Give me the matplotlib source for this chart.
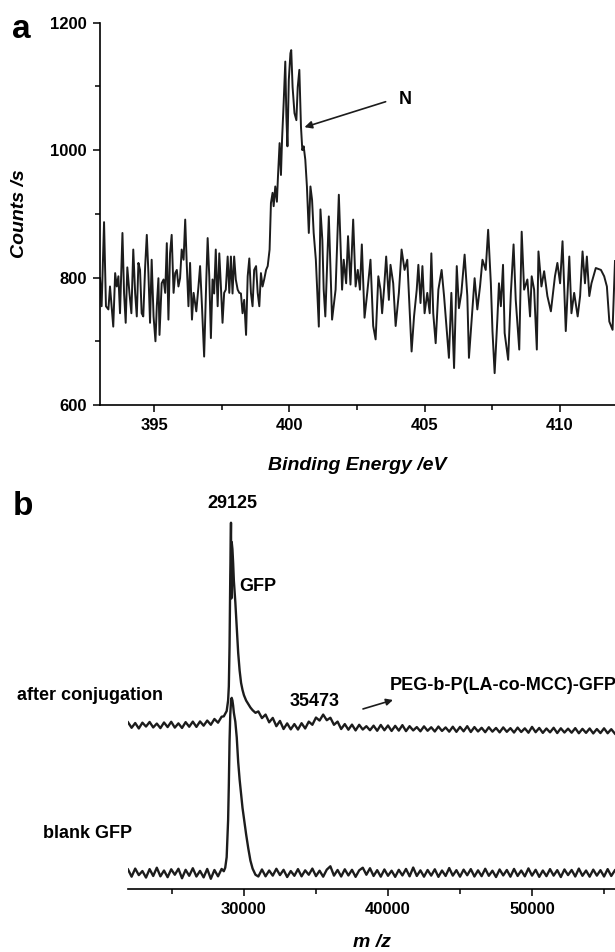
import matplotlib
matplotlib.use("Agg")
import matplotlib.pyplot as plt
from matplotlib.ticker import MultipleLocator

plt.rcParams['font.family'] = ['Liberation Sans', 'DejaVu Sans']
plt.rcParams['font.weight'] = 'bold'
plt.rcParams['axes.labelweight'] = 'bold'

# ---- panel a : XPS N1s scan ----
energy = [
    393.00, 393.06, 393.15, 393.22, 393.31, 393.37, 393.43, 393.49, 393.56, 393.62,
    393.68, 393.74, 393.83, 393.89, 393.95, 394.01, 394.09, 394.16, 394.23, 394.30,
    394.36, 394.42, 394.48, 394.54, 394.60, 394.67, 394.73, 394.79, 394.85, 394.91,
    394.98, 395.05, 395.10, 395.16, 395.20, 395.28, 395.35, 395.41, 395.47, 395.53,
    395.59, 395.65, 395.72, 395.78, 395.84, 395.90, 395.96, 396.02, 396.09, 396.15,
    396.21, 396.27, 396.33, 396.40, 396.46, 396.56, 396.64, 396.70, 396.77, 396.85,
    396.93, 396.98, 397.04, 397.10, 397.16, 397.22, 397.28, 397.35, 397.41, 397.47,
    397.53, 397.59, 397.65, 397.72, 397.78, 397.84, 397.90, 397.96, 398.02, 398.09,
    398.15, 398.21, 398.27, 398.33, 398.40, 398.46, 398.52, 398.58, 398.64, 398.70,
    398.77, 398.83, 398.89, 398.95, 399.01, 399.07, 399.14, 399.20, 399.27, 399.32,
    399.38, 399.42, 399.48, 399.54, 399.58, 399.64, 399.69, 399.73, 399.79, 399.85,
    399.89, 399.93, 399.98, 400.04, 400.07, 400.12, 400.19, 400.26, 400.31, 400.37,
    400.43, 400.48, 400.53, 400.59, 400.65, 400.72, 400.78, 400.84, 400.90, 400.98,
    401.09, 401.15, 401.22, 401.27, 401.33, 401.46, 401.58, 401.71, 401.83, 401.95,
    402.01, 402.10, 402.17, 402.26, 402.36, 402.45, 402.53, 402.61, 402.68, 402.78,
    402.88, 403.00, 403.10, 403.19, 403.29, 403.37, 403.43, 403.50, 403.58, 403.68,
    403.74, 403.84, 403.93, 404.05, 404.15, 404.26, 404.36, 404.43, 404.52, 404.61,
    404.71, 404.77, 404.85, 404.92, 405.00, 405.10, 405.19, 405.25, 405.32, 405.41,
    405.51, 405.63, 405.72, 405.78, 405.90, 405.99, 406.09, 406.19, 406.27, 406.36,
    406.48, 406.58, 406.64, 406.77, 406.85, 406.95, 407.05, 407.14, 407.26, 407.35,
    407.45, 407.51, 407.59, 407.69, 407.75, 407.82, 407.90, 407.96, 408.09, 408.19,
    408.29, 408.37, 408.50, 408.59, 408.68, 408.80, 408.90, 408.96, 409.05, 409.15,
    409.21, 409.32, 409.42, 409.54, 409.67, 409.82, 409.91, 410.01, 410.10, 410.22,
    410.35, 410.43, 410.53, 410.66, 410.75, 410.84, 410.93, 411.00, 411.09, 411.17,
    411.33, 411.52, 411.64, 411.74, 411.83, 411.95, 412.04,
]
counts = [
    799, 755, 887, 755, 750, 786, 755, 723, 807, 786,
    802, 744, 870, 775, 729, 816, 775, 744, 844, 775,
    739, 823, 812, 744, 739, 818, 867, 807, 729, 828,
    739, 700, 755, 799, 710, 791, 797, 776, 854, 734,
    838, 867, 776, 807, 812, 786, 799, 844, 828, 891,
    818, 755, 823, 734, 776, 747, 786, 818, 755, 676,
    797, 862, 802, 705, 797, 775, 844, 755, 838, 786,
    729, 776, 781, 833, 776, 833, 775, 833, 797, 781,
    776, 775, 744, 765, 710, 802, 830, 776, 755, 812,
    818, 776, 755, 807, 786, 797, 812, 818, 844, 917,
    933, 912, 943, 919, 959, 1011, 961, 1016, 1074, 1139,
    1053, 1006, 1110, 1152, 1157, 1099, 1058, 1047, 1099, 1126,
    1037, 1000, 1006, 985, 943, 870, 943, 922, 870, 828,
    723, 907, 859, 781, 739, 896, 734, 781, 930, 781,
    828, 791, 865, 789, 891, 786, 812, 781, 852, 737,
    776, 828, 724, 703, 802, 781, 744, 781, 833, 765,
    820, 791, 724, 776, 844, 812, 828, 765, 684, 739,
    781, 820, 760, 818, 744, 776, 744, 838, 744, 697,
    781, 812, 771, 739, 674, 776, 658, 818, 752, 776,
    836, 771, 674, 750, 799, 750, 786, 828, 812, 875,
    791, 716, 650, 734, 791, 755, 820, 713, 671, 776,
    852, 765, 687, 872, 781, 797, 739, 802, 781, 687,
    841, 786, 810, 771, 747, 802, 823, 791, 857, 716,
    833, 744, 776, 739, 771, 841, 791, 833, 771, 791,
    815, 812, 802, 786, 731, 718, 826,
]

# ---- panel b : MALDI-TOF spectra ----
mz_left = [21950, 22200, 22450, 22700, 22950, 23200, 23450, 23700, 23950, 24200,
           24450, 24700, 24950, 25200, 25450, 25700, 25950, 26200, 26450, 26700,
           26950, 27200, 27450, 27700, 27950, 28200, 28450]
mz_peak = [28600, 28700, 28800, 28900, 28950, 29000, 29050, 29100, 29125, 29150,
           29200, 29250, 29300, 29400, 29500, 29600, 29700, 29800, 29900, 30000,
           30150, 30300, 30450, 30600, 30800]
mz_right = [31000, 31250, 31500, 31750, 32000, 32250, 32500, 32750, 33000, 33250,
            33500, 33750, 34000, 34250, 34500, 34750, 35000, 35250, 35500, 35750,
            36000, 36250, 36500, 36750, 37000, 37250, 37500, 37750, 38000, 38250,
            38500, 38750, 39000, 39250, 39500, 39750, 40000, 40250, 40500, 40750,
            41000, 41250, 41500, 41750, 42000, 42250, 42500, 42750, 43000, 43250,
            43500, 43750, 44000, 44250, 44500, 44750, 45000, 45250, 45500, 45750,
            46000, 46250, 46500, 46750, 47000, 47250, 47500, 47750, 48000, 48250,
            48500, 48750, 49000, 49250, 49500, 49750, 50000, 50250, 50500, 50750,
            51000, 51250, 51500, 51750, 52000, 52250, 52500, 52750, 53000, 53250,
            53500, 53750, 54000, 54250, 54500, 54750, 55000, 55250, 55500, 55750]

conj_left = [1.6, -1.5, 1.2, -1.9, 1.4, -0.8, 1.8, -1.3, 0.9, -1.7,
             1.5, -1.1, 1.9, -1.4, 1.0, -1.6, 1.7, -0.9, 2.0, -1.0,
             2.1, -0.3, 2.6, 0.2, 3.5, 1.4, 4.8]
conj_peak = [5.0, 6.5, 8.0, 14.0, 22.0, 45.0, 85.0, 115.0, 72.0, 104.0,
             100.0, 92.0, 82.0, 70.0, 56.0, 41.0, 31.0, 24.0, 20.0, 17.0,
             14.0, 12.0, 10.0, 8.5, 7.0]
conj_right = [7.8, 4.0, 6.0, 1.6, 4.1, -0.6, 2.4, -2.2, 1.0, -2.4,
              0.6, -2.5, 1.1, -1.9, 2.0, 0.2, 4.3, 2.6, 6.0, 2.8,
              4.2, 0.2, 2.0, -2.2, 0.6, -2.6, 0.3, -3.0, 0.2, -2.5,
              -0.6, -2.9, -0.3, -3.2, 0.1, -2.9, -0.2, -3.3, -0.4, -3.1,
              0.0, -3.4, -0.6, -3.0, -1.1, -3.5, -0.7, -3.2, -1.2, -3.6,
              -0.8, -3.3, -1.3, -3.7, -0.9, -3.8, -1.0, -3.5, -0.6, -3.9,
              -1.1, -3.6, -1.5, -4.0, -1.2, -3.7, -1.6, -4.1, -1.3, -3.8,
              -1.7, -4.2, -1.4, -3.9, -1.8, -4.3, -1.0, -4.0, -1.6, -4.4,
              -1.9, -4.1, -1.5, -4.5, -1.8, -4.2, -2.0, -4.3, -1.7, -4.6,
              -2.1, -4.4, -1.9, -4.7, -2.2, -4.5, -1.8, -4.6, -2.3, -4.8]

blank_left = [2.0, -2.1, 2.5, -1.2, 1.1, -2.6, 2.2, -1.7, 3.0, -1.9,
              1.4, -2.4, 2.1, -1.0, 2.4, -3.0, 1.8, -1.6, 2.7, -2.0,
              1.2, -2.5, 2.3, -3.3, 1.7, -1.9, 2.3]
blank_peak = [1.0, 3.0, 9.0, 30.0, 50.0, 75.0, 90.0, 97.0, 99.0, 99.5,
              98.0, 95.0, 91.0, 86.0, 77.0, 63.0, 53.0, 45.0, 37.0, 31.0,
              22.0, 14.0, 7.0, 2.5, -1.0]
blank_right = [-2.0, 2.0, -1.9, 1.4, -1.5, 2.4, -1.2, 1.8, -2.3, 1.1,
               -1.6, 2.2, -1.9, 1.5, -1.0, 2.5, -1.8, 1.3, -2.1, 1.9,
               3.8, -1.5, 1.7, -2.0, 2.1, -1.4, 1.8, -2.2, 1.5, 3.0,
               -1.0, 2.7, -1.7, 1.6, -2.1, 2.0, -1.6, 1.3, -2.2, 1.8,
               -1.4, 2.3, -1.9, 3.1, -1.7, 1.5, -2.1, 1.7, -1.5, 2.1,
               -2.2, 1.4, -1.7, 2.8, -1.5, 1.6, -2.1, 1.9, -1.3, 2.2,
               -2.0, 1.5, -1.8, 2.4, -1.6, 1.3, -2.3, 2.0, -1.4, 1.7,
               -2.1, 2.3, -1.7, 1.4, -1.9, 2.6, -1.5, 1.8, -2.2, 1.4,
               -1.8, 2.2, -1.5, 1.6, -2.3, 2.0, -1.2, 1.7, -2.0, 2.5,
               -1.6, 1.4, -2.1, 1.9, -1.5, 1.6, -2.0, 2.2, -1.7, 1.5]

mz = mz_left + mz_peak + mz_right
conj = conj_left + conj_peak + conj_right
blank = blank_left + blank_peak + blank_right
conj_offset = 84

line_c = '#1c1c1c'
W, H = 615, 952

fig = plt.figure(figsize=(W / 100, H / 100), dpi=100)

# panel a
ax1 = fig.add_axes([100 / W, 1 - 405 / H, 515 / W, (405 - 22.7) / H])
ax1.plot(energy, counts, color=line_c, lw=1.4)
ax1.set_xlim(393, 412.04)
ax1.set_ylim(600, 1200)
ax1.xaxis.set_major_locator(MultipleLocator(5))
ax1.xaxis.set_minor_locator(MultipleLocator(2.5))
ax1.yaxis.set_major_locator(MultipleLocator(200))
ax1.yaxis.set_minor_locator(MultipleLocator(100))
for s in ['top', 'right']:
    ax1.spines[s].set_visible(False)
for s in ['left', 'bottom']:
    ax1.spines[s].set_linewidth(1.2)
ax1.tick_params(which='major', direction='out', length=5, width=1.1,
                labelsize=12, pad=4.5)
ax1.tick_params(which='minor', direction='out', length=3.5, width=1.1)
ax1.set_ylabel('Counts /s', fontsize=14, fontstyle='italic', labelpad=16)
ax1.set_xlabel('Binding Energy /eV', fontsize=14, fontstyle='italic', labelpad=17)
ax1.annotate('', xy=(400.56, 1036), xytext=(403.56, 1076),
             arrowprops=dict(arrowstyle='-|>', lw=1.2, color=line_c,
                             mutation_scale=11, shrinkA=0, shrinkB=0))
ax1.text(404.3, 1079, 'N', fontsize=13, ha='center', va='center')

# panel b
ax2 = fig.add_axes([128 / W, 1 - 889 / H, 487 / W, 399 / H])
ax2.plot(mz, [v + conj_offset for v in conj], color=line_c, lw=1.7)
ax2.plot(mz, blank, color=line_c, lw=1.7)
ax2.set_xlim(21950, 55760)
ax2.set_ylim(-9.1, 217.6)
ax2.xaxis.set_major_locator(MultipleLocator(10000))
ax2.xaxis.set_minor_locator(MultipleLocator(5000))
ax2.set_yticks([])
for s in ['top', 'right', 'left']:
    ax2.spines[s].set_visible(False)
ax2.spines['bottom'].set_linewidth(1.2)
ax2.tick_params(which='major', direction='out', length=5, width=1.1,
                labelsize=12, pad=4.5)
ax2.tick_params(which='minor', direction='out', length=3.5, width=1.1)
ax2.set_xlabel('m /z', fontsize=14, fontstyle='italic', labelpad=12)

ax2.text(29170, 210, '29125', fontsize=13, ha='center', va='center')
ax2.text(29653, 162.5, 'GFP', fontsize=13, ha='left', va='center')
ax2.text(14240, 101, 'after conjugation', fontsize=13, ha='left', va='center')
ax2.text(16043, 22.7, 'blank GFP', fontsize=13, ha='left', va='center')
ax2.text(33194, 97.2, '35473', fontsize=13, ha='left', va='center')
ax2.text(40140, 106.3, 'PEG-b-P(LA-co-MCC)-GFP', fontsize=13, ha='left', va='center')
ax2.annotate('', xy=(40347, 98.3), xytext=(38264, 93.2),
             arrowprops=dict(arrowstyle='-|>', lw=1.2, color=line_c,
                             mutation_scale=10, shrinkA=0, shrinkB=0))

fig.text(12 / W, 1 - 38 / H, 'a', fontsize=24, va='baseline', ha='left')
fig.text(13 / W, 1 - 515 / H, 'b', fontsize=24, va='baseline', ha='left')

fig.savefig('out.png', dpi=100)
